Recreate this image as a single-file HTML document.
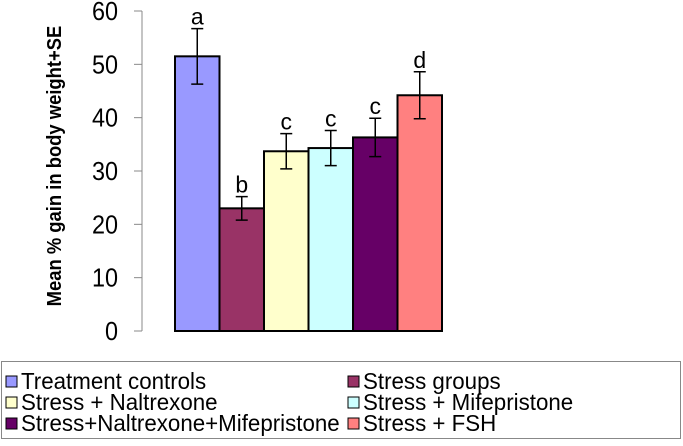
<!DOCTYPE html>
<html><head><style>
body{margin:0;background:#fff;}
svg text{font-family:"Liberation Sans",Arial,sans-serif;}
</style></head><body>
<svg width="683" height="441" xmlns="http://www.w3.org/2000/svg">
<g id="chart"></g>
<g id="legend"></g>
</svg>
<script>
const categories=["Treatment controls","Stress groups","Stress + Naltrexone","Stress + Mifepristone","Stress+Naltrexone+Mifepristone","Stress + FSH"];
const values=[51.5,23,33.7,34.3,36.3,44.2];
const errors=[5.2,2.2,3.3,3.3,3.6,4.4];
const letters=["a","b","c","c","c","d"];
const colors=["#9999ff","#993366","#ffffcc","#ccffff","#660066","#ff8080"];
const ticks=[0,10,20,30,40,50,60];
const NS="http://www.w3.org/2000/svg";
const y0=331,y1=11,ymax=60;
const y=v=>y0-(v/ymax)*(y0-y1);
const x=i=>175+i*44.5;
const bw=44.5;
const g=document.getElementById('chart');
function mk(t,a,p){const e=document.createElementNS(NS,t);for(const k in a)e.setAttribute(k,a[k]);(p||g).appendChild(e);return e;}
function cond(t,f){const w=t.getComputedTextLength();t.setAttribute('textLength',w*f);t.setAttribute('lengthAdjust','spacingAndGlyphs');}
const ax=mk('line',{x1:142,y1:y0,x2:142,y2:y1,stroke:'#888','stroke-width':1});


ticks.forEach(t=>{
 const l=mk('line',{x1:134,x2:142,y1:y(t),y2:y(t),stroke:'#888'});
 
 
 const tx=mk('text',{x:118,y:y(t)+9,'text-anchor':'end','font-size':26,fill:'#000'});
 tx.textContent=t;
 
 
 cond(tx,0.9);
});
const yt=mk('text',{transform:'translate(61,166) rotate(-90)','text-anchor':'middle','font-size':20,'font-weight':'bold'});
yt.textContent='Mean % gain in body weight+SE';


cond(yt,0.92);
values.forEach((v,i)=>{
 const r=mk('rect',{x:x(i),y:y(v),width:bw,height:y0-y(v),fill:colors[i],stroke:'#000','stroke-width':2});
 
 
 const cx=x(i)+bw/2;
 const e=mk('path',{d:`M${cx},${y(v+errors[i])}V${y(v-errors[i])}M${cx-6},${y(v+errors[i])}h12M${cx-6},${y(v-errors[i])}h12`,stroke:'#000','stroke-width':1.5,fill:'none'});
 
 
 const lt=mk('text',{x:cx,y:y(v+errors[i])-4,'text-anchor':'middle','font-size':23});
 lt.textContent=letters[i];
 
 
});
const lg=document.getElementById('legend');
const box=mk('rect',{x:1.5,y:361.5,width:679,height:77,fill:'#fff',stroke:'#888'},lg);


categories.forEach((c,i)=>{
 const col=i%2,row=Math.floor(i/2);
 const lx=col?348:6, ly=376+row*21;
 const s=mk('rect',{x:lx,y:ly,width:11,height:11,fill:colors[i],stroke:'#000','stroke-width':1},lg);
 
 
 const t=mk('text',{x:lx+15,y:ly+13,'font-size':23},lg);
 t.textContent=c;
 
 
 cond(t,0.97);
});
</script>
</body></html>
